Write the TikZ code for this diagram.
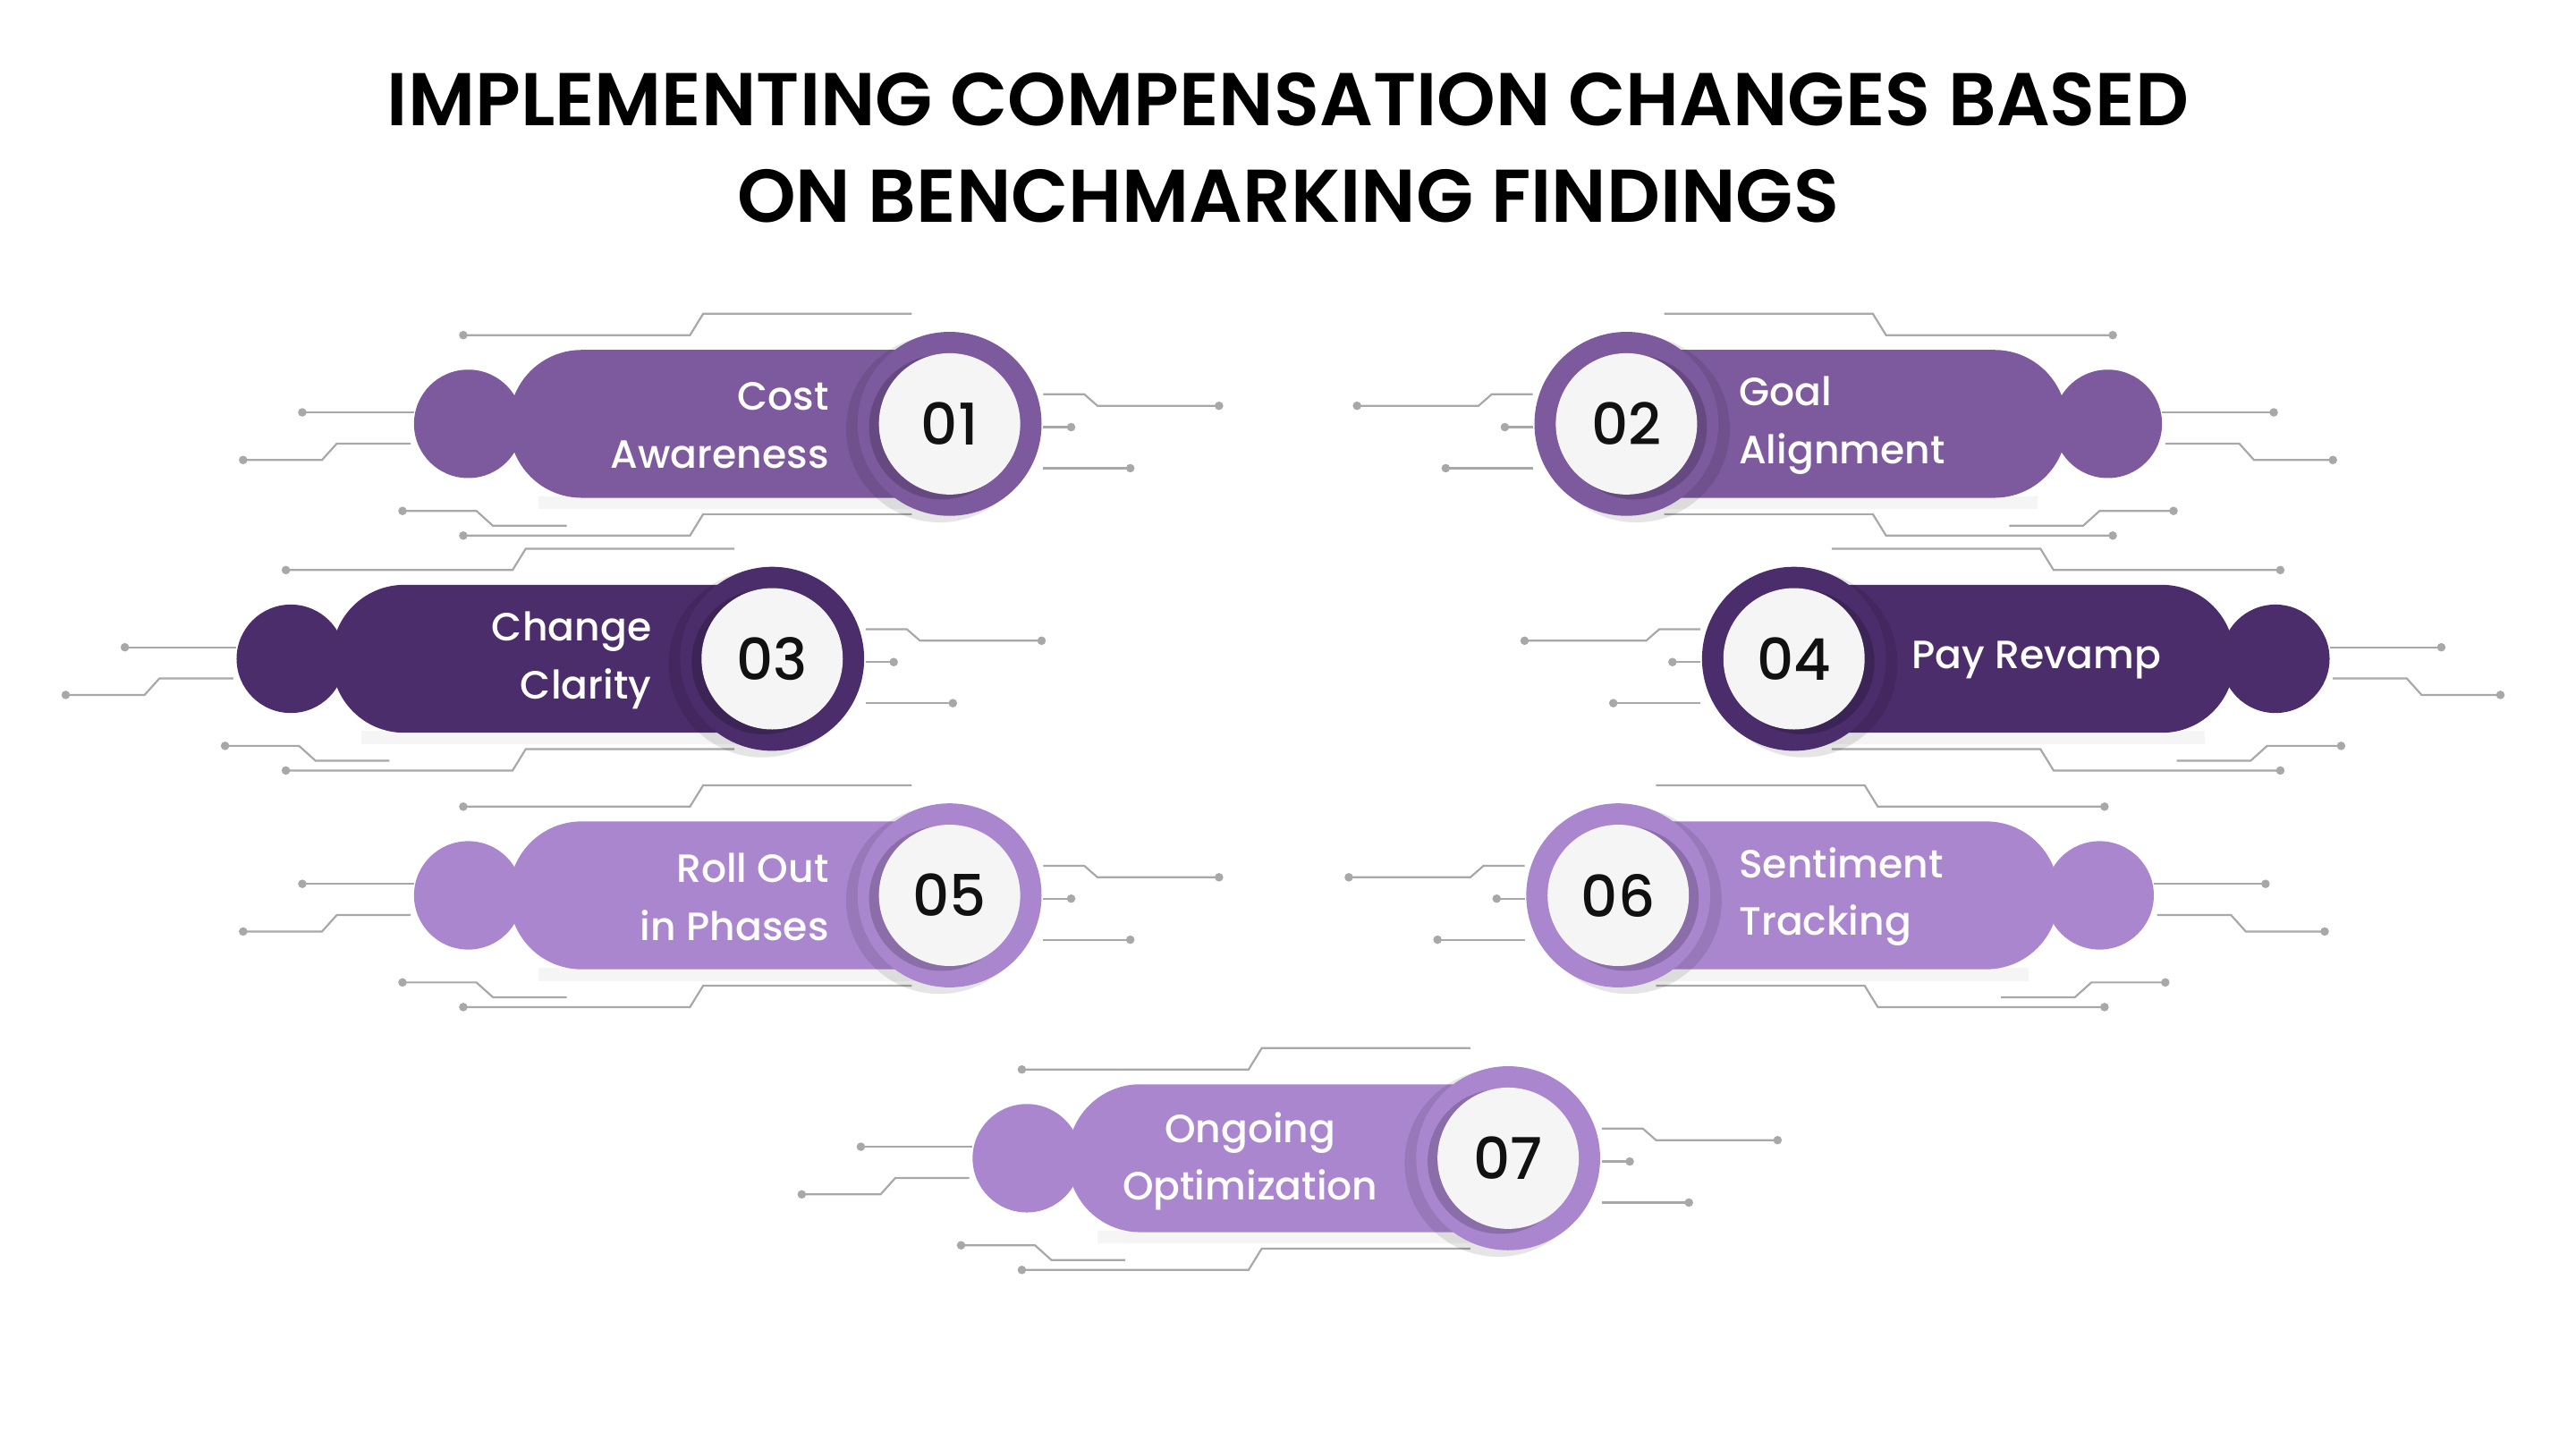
\documentclass[tikz,border=0pt]{standalone}
\usepackage{fontspec}
\setmainfont{Poppins}
\newfontfamily\titlefont{Poppins SemiBold}
\newfontfamily\medfont{Poppins Medium}
\usetikzlibrary{calc}
\definecolor{cA}{HTML}{7D5A9E}
\definecolor{cB}{HTML}{4B2D6B}
\definecolor{cC}{HTML}{AA86CF}
\definecolor{wire}{HTML}{A8A8A8}
\definecolor{ink}{HTML}{111111}
\tikzset{
  wireline/.style={draw=wire,line width=1.2pt},
  dotend/.style={fill=wire,draw=none},
  lbl/.style={text=white,font=\medfont\fontsize{24}{35}\selectfont},
  numfont/.style={text=ink,font=\medfont\fontsize{35}{35}\selectfont}
}
% #1 x of ring centre, #2 y, #3 colour, #4 node name
\newcommand\modshape[4]{%
  \fill[black,opacity=0.04] (#1-250,#2+44) rectangle (#1,#2+52);
  \fill[#3] (#1-293,#2) circle (33);
  \fill[#3,rounded corners=44] (#1-268,#2-45) rectangle (#1+20,#2+45);
  \fill[black,opacity=0.10] (#1-6,#2+3) circle (57);
  \fill[#3] (#1,#2) circle (56);
  \fill[black,opacity=0.18] (#1-5,#2+2) circle (44);
  \node[circle,fill=white!96!black,minimum size=86,inner sep=0] (#4) at (#1,#2) {};
}
\newcommand\modwires[2]{%
  \begin{scope}[shift={(#1,#2)}]
  \draw[wireline] (-296,-54) -- (-158,-54) -- (-150,-67) -- (-23,-67);
  \fill[dotend] (-296,-54) circle (2.6);
  \draw[wireline] (-394,-7) -- (-326,-7); \fill[dotend] (-394,-7) circle (2.6);
  \draw[wireline] (-430,22) -- (-382,22) -- (-373,12) -- (-328,12); \fill[dotend] (-430,22) circle (2.6);
  \draw[wireline] (-333,53) -- (-288,53) -- (-278,62) -- (-233,62); \fill[dotend] (-333,53) circle (2.6);
  \draw[wireline] (-296,68) -- (-158,68) -- (-150,55) -- (-23,55); \fill[dotend] (-296,68) circle (2.6);
  \draw[wireline] (57,-18) -- (82,-18) -- (90,-11) -- (164,-11); \fill[dotend] (164,-11) circle (2.6);
  \draw[wireline] (57,2) -- (74,2); \fill[dotend] (74,2) circle (2.6);
  \draw[wireline] (57,27) -- (110,27); \fill[dotend] (110,27) circle (2.6);
  \end{scope}}
\begin{document}
\begin{tikzpicture}[x=1pt,y=-1pt]
\useasboundingbox (0,0) rectangle (1568,882);
\node[font=\titlefont\fontsize{45.5}{59}\selectfont,align=center,text=black] (title) at (784,90)
 {IMPLEMENTING COMPENSATION CHANGES BASED\\ON BENCHMARKING FINDINGS};
% wires
\modwires{578}{258}
\begin{scope}[xscale=-1,shift={(-990,0)}]\modwires{0}{258}\end{scope}
\modwires{470}{401}
\begin{scope}[xscale=-1,shift={(-1092,0)}]\modwires{0}{401}\end{scope}
\modwires{578}{545}
\begin{scope}[xscale=-1,shift={(-985,0)}]\modwires{0}{545}\end{scope}
\modwires{918}{705}
% modules
\modshape{578}{258}{cA}{n1}
\begin{scope}[xscale=-1,shift={(-990,0)}]\modshape{0}{258}{cA}{n2}\end{scope}
\modshape{470}{401}{cB}{n3}
\begin{scope}[xscale=-1,shift={(-1092,0)}]\modshape{0}{401}{cB}{n4}\end{scope}
\modshape{578}{545}{cC}{n5}
\begin{scope}[xscale=-1,shift={(-985,0)}]\modshape{0}{545}{cC}{n6}\end{scope}
\modshape{918}{705}{cC}{n7}
% numbers
\foreach \n/\t in {n1/01,n2/02,n3/03,n4/04,n5/05,n6/06,n7/07}
  \node[numfont] at (\n) {\t};
% labels
\node[lbl,align=right,anchor=east] (t1) at (508,259) {Cost\\Awareness};
\node[lbl,align=left,anchor=west] (t2) at (1055,259) {Goal\\Alignment};
\node[lbl,align=right,anchor=east] (t3) at (400,402) {Change\\Clarity};
\node[lbl,align=left,anchor=west] (t4) at (1160,402) {Pay Revamp};
\node[lbl,align=right,anchor=east] (t5) at (508,546) {Roll Out\\in Phases};
\node[lbl,align=left,anchor=west] (t6) at (1055,546) {Sentiment\\Tracking};
\node[lbl,align=center] (t7) at (761,707) {Ongoing\\Optimization};
\end{tikzpicture}
\end{document}
